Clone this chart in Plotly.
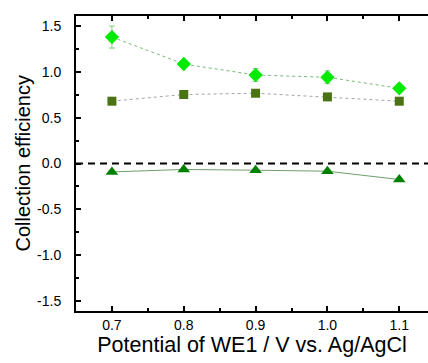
import plotly.graph_objects as go

potential = [0.7, 0.8, 0.9, 1.0, 1.1]
ce_diamond = [1.38, 1.086, 0.966, 0.941, 0.821]
ce_diamond_err = [0.12, 0.02, 0.07, 0.07, 0.03]
ce_square = [0.68, 0.753, 0.767, 0.727, 0.68]
ce_triangle = [-0.092, -0.065, -0.073, -0.084, -0.175]
x_ticks = [0.7, 0.8, 0.9, 1.0, 1.1]
y_ticks = [-1.5, -1.0, -0.5, 0.0, 0.5, 1.0, 1.5]

fig = go.Figure()

fig.add_trace(go.Scatter(
    x=potential, y=ce_triangle, mode="lines+markers",
    line=dict(color="rgb(110,160,110)", width=1),
    marker=dict(symbol="triangle-up", size=11, color="rgb(0,128,0)"),
    showlegend=False))

fig.add_trace(go.Scatter(
    x=potential, y=ce_square, mode="lines+markers",
    line=dict(color="rgb(165,165,165)", width=1, dash="dot"),
    marker=dict(symbol="square", size=9, color="rgb(75,115,20)"),
    showlegend=False))

fig.add_trace(go.Scatter(
    x=potential, y=ce_diamond, mode="lines+markers",
    line=dict(color="rgb(120,185,120)", width=1, dash="dot"),
    marker=dict(symbol="diamond", size=11, color="rgb(0,235,0)"),
    error_y=dict(type="data", array=ce_diamond_err, visible=True,
                 color="rgb(130,200,130)", thickness=1, width=3),
    showlegend=False))

fig.add_shape(type="line", xref="paper", yref="y", x0=0, x1=1, y0=0, y1=0,
              line=dict(color="black", width=2, dash="7px,5px"), layer="below")

font_family = "Liberation Sans, Arial, sans-serif"

fig.add_annotation(text="Collection efficiency", xref="paper", yref="paper",
                   x=-(76 - 22) / 352, y=0.5, textangle=-90, showarrow=False,
                   xanchor="center", yanchor="middle", font=dict(size=20))

fig.update_layout(
    width=428, height=363,
    margin=dict(l=76, r=0, t=16, b=52),
    paper_bgcolor="white", plot_bgcolor="white",
    font=dict(family=font_family, color="black", size=14),
    xaxis=dict(
        range=[0.65, 1.14], tickvals=x_ticks, ticktext=["0.7", "0.8", "0.9", "1.0", "1.1"],
        showgrid=False, zeroline=False, showline=True, linecolor="black", linewidth=2,
        mirror="ticks", ticks="inside", ticklen=5, tickwidth=1.5, tickcolor="black",
        minor=dict(ticks="inside", dtick=0.05, tick0=0.65, ticklen=3, tickwidth=1.5, tickcolor="black"),
        tickfont=dict(size=14),
        title=dict(text="Potential of WE1 / V vs. Ag/AgCl", font=dict(size=21.5), standoff=0),
    ),
    yaxis=dict(
        range=[-1.61, 1.61], tickvals=y_ticks,
        ticktext=["-1.5", "-1.0", "-0.5", "0.0", "0.5", "1.0", "1.5"],
        showgrid=False, zeroline=False, showline=True, linecolor="black", linewidth=2,
        ticks="inside", ticklen=5, tickwidth=1.5, tickcolor="black",
        minor=dict(ticks="inside", dtick=0.25, tick0=-1.75, ticklen=3, tickwidth=1.5, tickcolor="black"),
        ticklabelstandoff=10,
        tickfont=dict(size=14),
    ),
)

fig.write_html("out.html")
